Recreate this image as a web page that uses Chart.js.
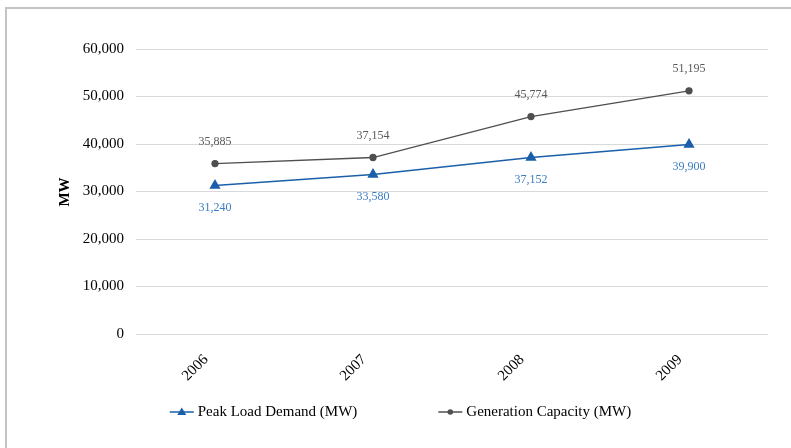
<!DOCTYPE html>
<html>
<head>
<meta charset="utf-8">
<script src="https://cdn.jsdelivr.net/npm/chart.js@4"></script>
<style>
  html,body{margin:0;padding:0;background:#fff;}
  #wrap{position:relative;width:791px;height:448px;}
  #frame{position:absolute;left:5px;top:7px;right:0;bottom:0;border-top:2px solid #c4c4c4;border-left:2px solid #c4c4c4;pointer-events:none;}
</style>
</head>
<body>
<div id="wrap">
  <canvas id="c" width="791" height="448"></canvas>
  <div id="frame"></div>
</div>
<script>
const YEARS = ['2006','2007','2008','2009'];
const PEAK_LOAD = [31240, 33580, 37152, 39900];
const GEN_CAP = [35885, 37154, 45774, 51195];
const Y_MAX = 60000, Y_STEP = 10000;

const FONT = "'Liberation Serif','Times New Roman',serif";
const BLUE = '#1b5faa', BLUE_TXT = '#3b7cc0';
const GREY = '#4f4f4f', GREY_TXT = '#595959';

const fmt = v => v.toLocaleString('en-US');

// value labels: grey above, blue below
const valueLabels = {
  id:'valueLabels',
  afterDatasetsDraw(chart){
    const ctx = chart.ctx;
    ctx.save();
    ctx.font = '12px ' + FONT;
    ctx.textAlign = 'center';
    ctx.textBaseline = 'middle';
    chart.data.datasets.forEach((ds,i)=>{
      const meta = chart.getDatasetMeta(i);
      ctx.fillStyle = ds.labelColor;
      meta.data.forEach((pt,j)=>{
        ctx.fillText(fmt(ds.data[j]), pt.x, pt.y + ds.labelShift);
      });
    });
    ctx.restore();
  }
};

// axis title + legend drawn by hand
const extras = {
  id:'extras',
  afterDraw(chart){
    const ctx = chart.ctx;
    ctx.save();
    ctx.fillStyle = '#000';
    ctx.font = 'bold 15px ' + FONT;
    ctx.textAlign = 'center';
    ctx.textBaseline = 'middle';
    ctx.translate(65, 192);
    ctx.rotate(-Math.PI/2);
    ctx.fillText('MW', 0, 0);
    ctx.restore();

    ctx.save();
    ctx.font = '15px ' + FONT;
    const sw = 24, gap = 4, between = 81, y = 412;
    const items = chart.data.datasets.map(ds=>({ds, w: sw + gap + ctx.measureText(ds.label).width}));
    const total = items.reduce((s,it)=>s+it.w,0) + between*(items.length-1);
    let x = (chart.width - total)/2 + 5;
    items.forEach(it=>{
      const ds = it.ds;
      ctx.strokeStyle = ds.borderColor; ctx.lineWidth = 1.5;
      ctx.beginPath(); ctx.moveTo(x, y); ctx.lineTo(x+sw, y); ctx.stroke();
      ctx.fillStyle = ds.pointBackgroundColor;
      const cx = x + sw/2;
      ctx.beginPath();
      if (ds.pointStyle === 'triangle') {
        ctx.moveTo(cx, y-4.5); ctx.lineTo(cx+4.5, y+3); ctx.lineTo(cx-4.5, y+3); ctx.closePath();
      } else {
        ctx.arc(cx, y, 2.8, 0, Math.PI*2);
      }
      ctx.fill();
      ctx.fillStyle = '#000';
      ctx.textBaseline = 'middle';
      ctx.textAlign = 'left';
      ctx.fillText(ds.label, x + sw + gap, y);
      x += it.w + between;
    });
    ctx.restore();
  }
};

new Chart(document.getElementById('c'), {
  type:'line',
  data:{
    labels: YEARS,
    datasets:[
      {label:'Peak Load Demand (MW)', data:PEAK_LOAD, borderColor:BLUE, backgroundColor:BLUE,
       pointBackgroundColor:BLUE, pointBorderColor:BLUE, pointStyle:'triangle', pointRadius:5, borderWidth:1.5,
       labelColor:BLUE_TXT, labelShift:22},
      {label:'Generation Capacity (MW)', data:GEN_CAP, borderColor:GREY, backgroundColor:GREY,
       pointBackgroundColor:GREY, pointBorderColor:GREY, pointStyle:'circle', pointRadius:3, borderWidth:1.3,
       labelColor:GREY_TXT, labelShift:-22}
    ]
  },
  options:{
    responsive:false, animation:false,
    layout:{padding:{top:49, right:23, left:0, bottom:0}},
    plugins:{legend:{display:false}, tooltip:{enabled:false}},
    scales:{
      x:{
        offset:true,
        grid:{display:false, drawTicks:false},
        border:{display:false},
        ticks:{font:{family:FONT, size:15}, color:'#000', maxRotation:45, minRotation:45, labelOffset:-9, padding:17},
        afterFit(s){ s.height = 114; }
      },
      y:{
        min:0, max:Y_MAX,
        grid:{color:'#d9d9d9', lineWidth:1, drawTicks:false},
        border:{display:false},
        ticks:{stepSize:Y_STEP, font:{family:FONT, size:15}, color:'#000', padding:12, callback:v=>fmt(v)},
        afterFit(s){ s.width = 136; }
      }
    }
  },
  plugins:[valueLabels, extras]
});
</script>
</body>
</html>
